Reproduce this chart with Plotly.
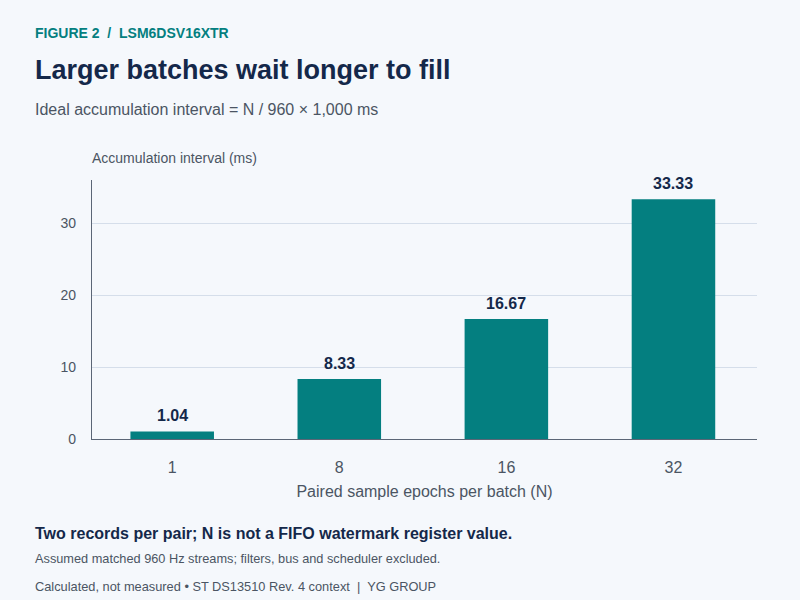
import plotly.graph_objects as go

# data
batch_sizes = ["1", "8", "16", "32"]
interval_ms = [1.04, 8.33, 16.67, 33.33]
bar_labels = ["1.04", "8.33", "16.67", "33.33"]

TEAL = "#047f80"
NAVY = "#14284a"
GRAY = "#4b5563"
BG = "#f5f8fc"
FONT = "Liberation Sans, Arial, sans-serif"

PLOT_TOP = 180
PLOT_BOTTOM = 439

fig = go.Figure()

fig.add_trace(go.Bar(
    x=batch_sizes,
    y=interval_ms,
    marker=dict(color=TEAL, line=dict(width=0)),
    hoverinfo="skip",
))

# value labels above each bar (category axis -> position by index)
for i, (val, lab) in enumerate(zip(interval_ms, bar_labels)):
    fig.add_annotation(x=i, y=val, text=lab, showarrow=False,
                       xanchor="center", yanchor="middle", yshift=16,
                       font=dict(family=FONT, size=16, color=NAVY, weight="bold"))

fig.update_layout(
    width=800, height=600,
    paper_bgcolor=BG, plot_bgcolor=BG,
    margin=dict(l=92, r=43, t=PLOT_TOP, b=600 - PLOT_BOTTOM),
    bargap=0.5,
    showlegend=False,
    font=dict(family=FONT, color=GRAY),
    xaxis=dict(
        type="category",
        range=[-0.48, 3.5],
        showline=True, linecolor="#5b6676", linewidth=1.2,
        ticks="", ticklabelstandoff=14,
        tickfont=dict(size=16, color=GRAY),
        title=dict(text="Paired sample epochs per batch (N)", font=dict(size=16, color=GRAY), standoff=10),
    ),
    yaxis=dict(
        range=[0, 36],
        tickvals=[0, 10, 20, 30],
        showline=True, linecolor="#5b6676", linewidth=1.2,
        showgrid=True, gridcolor="#d5deea", gridwidth=1,
        zeroline=False,
        ticks="", ticklabelstandoff=12,
        tickfont=dict(size=14, color=GRAY),
    ),
)


def note(text, y_px, size, color, bold=False, xshift=-59):
    # place text at an absolute pixel row, relative to the plot area's edges
    if y_px < PLOT_TOP:
        y, ys = 1, PLOT_TOP - y_px
    else:
        y, ys = 0, PLOT_BOTTOM - y_px
    fig.add_annotation(text=text, xref="paper", yref="paper", x=0, y=y,
                       xanchor="left", yanchor="middle", showarrow=False,
                       xshift=xshift, yshift=ys,
                       font=dict(size=size, color=color, weight="bold" if bold else "normal"))


note("FIGURE 2  /  LSM6DSV16XTR", 33, 14, TEAL, bold=True)
note("Larger batches wait longer to fill", 70, 27, NAVY, bold=True)
note("Ideal accumulation interval = N / 960 × 1,000 ms", 109, 16, GRAY)
note("Accumulation interval (ms)", 158, 14, GRAY, xshift=-2)
note("Two records per pair; N is not a FIFO watermark register value.", 533, 16, NAVY, bold=True)
note("Assumed matched 960 Hz streams; filters, bus and scheduler excluded.", 558, 12.75, GRAY)
note("Calculated, not measured • ST DS13510 Rev. 4 context  |  YG GROUP", 586, 12.8, GRAY)

fig.write_html("out.html", config={"displayModeBar": False},
               post_script="document.body.style.margin='0';")
